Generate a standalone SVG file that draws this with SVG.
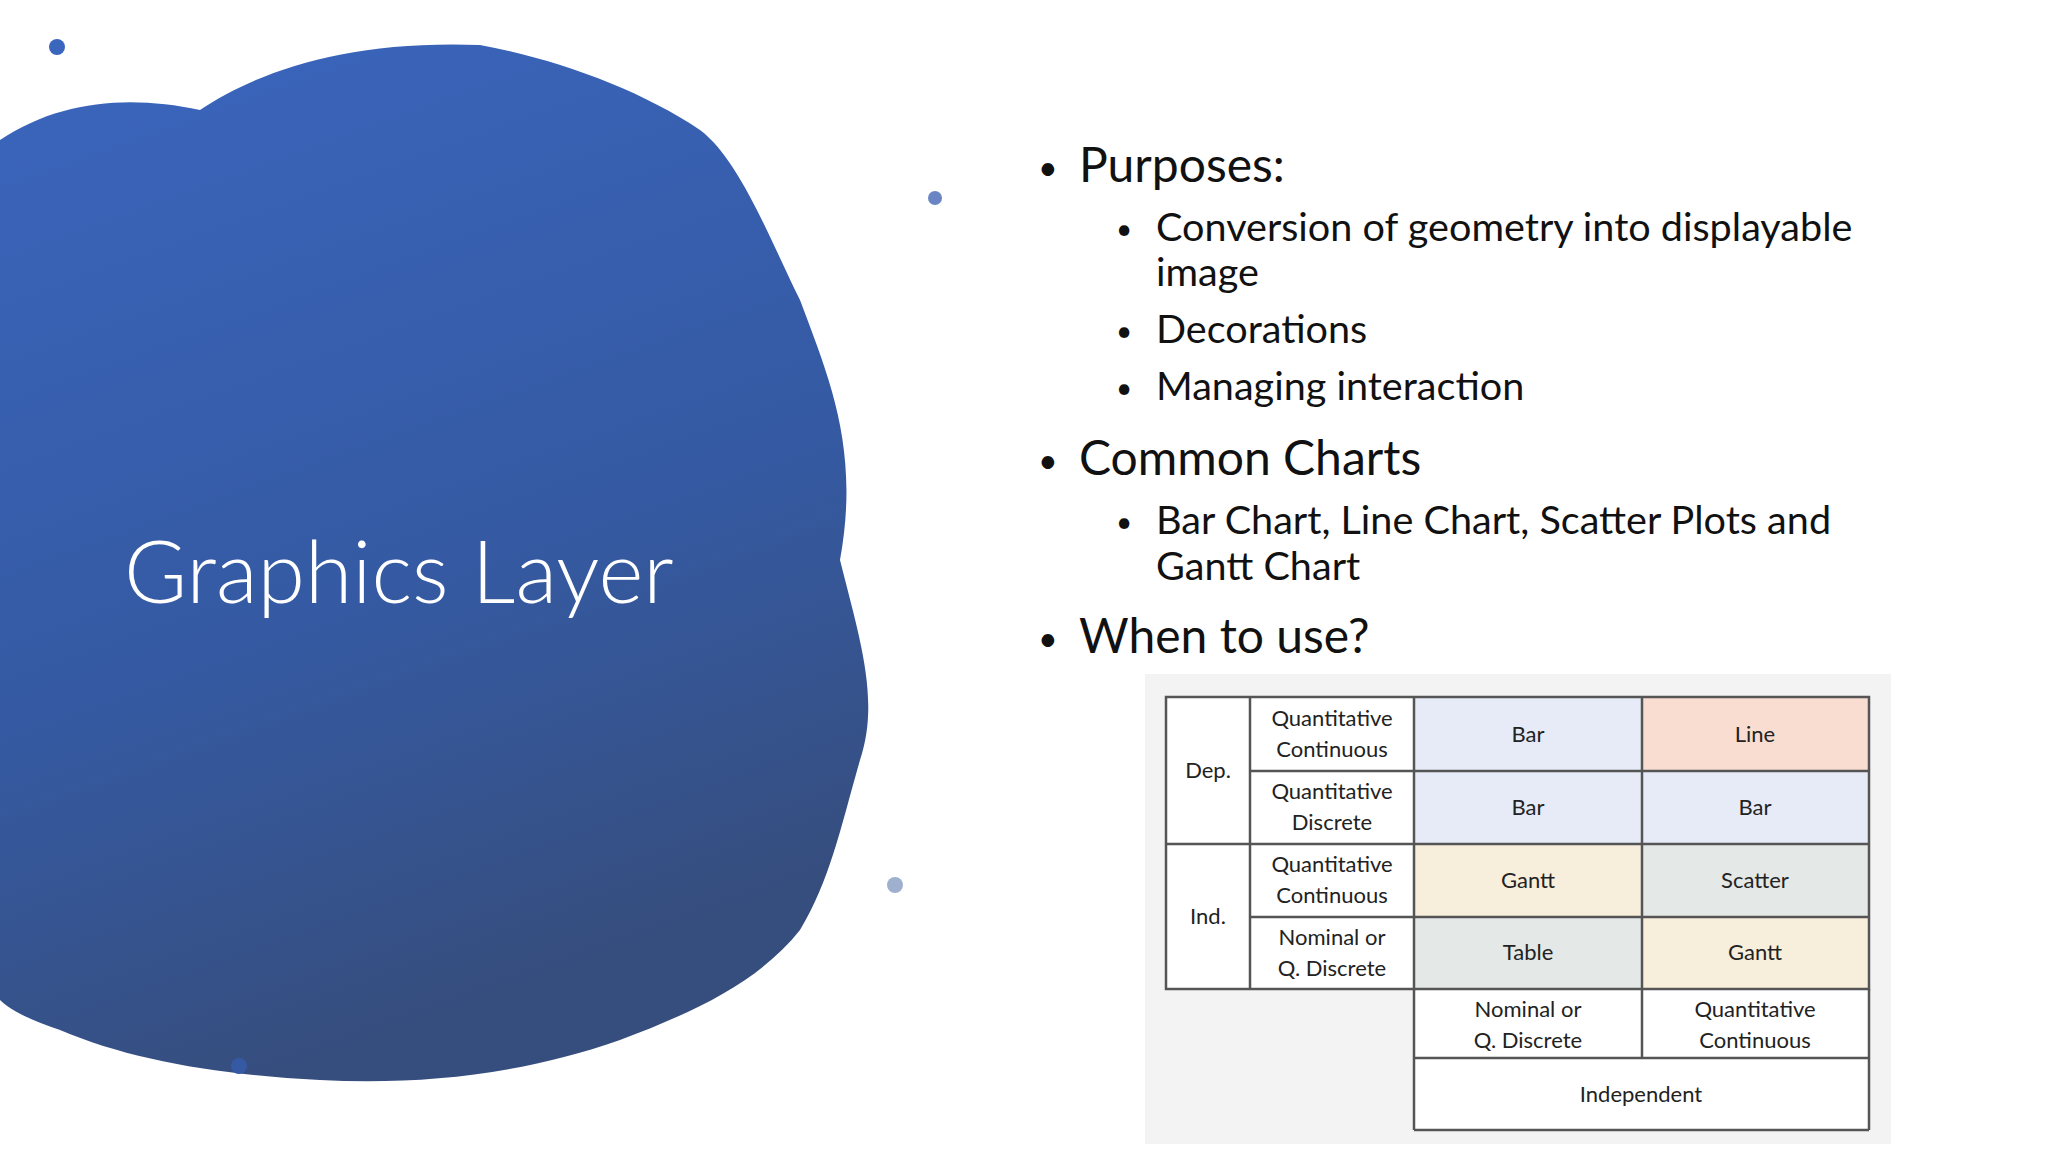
<svg xmlns="http://www.w3.org/2000/svg" width="2048" height="1152" viewBox="0 0 2048 1152">
<defs>
<linearGradient id="bg" x1="0" y1="0" x2="0.3" y2="1">
<stop offset="0" stop-color="#3B66BE"/><stop offset="0.6" stop-color="#355AA3"/><stop offset="1" stop-color="#364E7E"/>
</linearGradient>
<style>
.b{font-family:Lato,"Liberation Sans",sans-serif;fill:#111}
.l1{font-size:48px}.l2{font-size:39.6px}.d1{font-size:34px}.d2{font-size:28px}
.t{font-family:Lato,"Liberation Sans",sans-serif;font-size:22px;fill:#222;text-anchor:middle}
.c{stroke:#555;stroke-width:2.5}
</style>
</defs>
<rect width="2048" height="1152" fill="#fff"/>
<g id="blob">
<path fill="url(#bg)" d="M0 140 C60 100 130 95 200 110 C260 70 350 40 480 45 C560 60 640 90 700 130 C740 160 770 240 800 300 C830 380 860 450 840 560 C860 640 880 700 860 760 C840 830 830 880 800 930 C760 980 700 1010 620 1040 C520 1075 420 1085 320 1080 C220 1075 130 1060 60 1030 C30 1020 10 1010 0 1000 Z"/>
<circle cx="57" cy="47" r="8" fill="#3B66BE"/>
<circle cx="935" cy="198" r="7" fill="#6A85C4"/>
<circle cx="895" cy="885" r="8" fill="#9FB0CF"/>
<circle cx="239" cy="1066" r="8" fill="#355AA3"/>
</g>
<g id="title"><text x="124" y="603" font-family="Lato,'Liberation Sans',sans-serif" font-size="86" font-weight="300" fill="#fff">Graphics Layer</text></g>
<g id="bullets">
<text class="b d1" x="1038" y="180">•</text><text class="b l1" x="1079" y="182">Purposes:</text>
<text class="b d2" x="1116" y="239">•</text><text class="b l2" x="1156" y="241">Conversion of geometry into displayable</text>
<text class="b l2" x="1156" y="286">image</text>
<text class="b d2" x="1116" y="341">•</text><text class="b l2" x="1156" y="343">Decorations</text>
<text class="b d2" x="1116" y="398">•</text><text class="b l2" x="1156" y="400">Managing interaction</text>
<text class="b d1" x="1038" y="473">•</text><text class="b l1" x="1079" y="475">Common Charts</text>
<text class="b d2" x="1116" y="532">•</text><text class="b l2" x="1156" y="534">Bar Chart, Line Chart, Scatter Plots and</text>
<text class="b l2" x="1156" y="580">Gantt Chart</text>
<text class="b d1" x="1038" y="651">•</text><text class="b l1" x="1079" y="653">When to use?</text>
</g>
<g id="table">
<rect x="1145" y="674" width="746" height="470" fill="#F3F3F3"/>
<rect x="1166" y="697" width="248" height="292" fill="#fff"/>
<rect x="1414" y="989" width="455" height="141" fill="#fff"/>
<rect x="1414" y="697" width="228" height="74" fill="#E6EBF7"/>
<rect x="1642" y="697" width="227" height="74" fill="#F8DDD0"/>
<rect x="1414" y="771" width="228" height="73" fill="#E6EBF7"/>
<rect x="1642" y="771" width="227" height="73" fill="#E6EBF7"/>
<rect x="1414" y="844" width="228" height="73" fill="#F7EEDB"/>
<rect x="1642" y="844" width="227" height="73" fill="#E4E8E6"/>
<rect x="1414" y="917" width="228" height="72" fill="#E4E8E6"/>
<rect x="1642" y="917" width="227" height="72" fill="#F7EEDB"/>
<g class="c" fill="none">
<rect x="1166" y="697" width="703" height="292"/>
<line x1="1250" y1="697" x2="1250" y2="989"/>
<line x1="1414" y1="697" x2="1414" y2="1130"/>
<line x1="1642" y1="697" x2="1642" y2="1058"/>
<line x1="1869" y1="989" x2="1869" y2="1130"/>
<line x1="1250" y1="771" x2="1869" y2="771"/>
<line x1="1166" y1="844" x2="1869" y2="844"/>
<line x1="1250" y1="917" x2="1869" y2="917"/>
<line x1="1414" y1="1058" x2="1869" y2="1058"/>
<line x1="1414" y1="1130" x2="1869" y2="1130"/>
</g>
<text class="t" x="1208" y="778">Dep.</text>
<text class="t" x="1208" y="924">Ind.</text>
<text class="t" x="1332" y="726">Quantitative</text><text class="t" x="1332" y="757">Continuous</text>
<text class="t" x="1332" y="799">Quantitative</text><text class="t" x="1332" y="830">Discrete</text>
<text class="t" x="1332" y="872">Quantitative</text><text class="t" x="1332" y="903">Continuous</text>
<text class="t" x="1332" y="945">Nominal or</text><text class="t" x="1332" y="976">Q. Discrete</text>
<text class="t" x="1528" y="742">Bar</text><text class="t" x="1755" y="742">Line</text>
<text class="t" x="1528" y="815">Bar</text><text class="t" x="1755" y="815">Bar</text>
<text class="t" x="1528" y="888">Gantt</text><text class="t" x="1755" y="888">Scatter</text>
<text class="t" x="1528" y="960">Table</text><text class="t" x="1755" y="960">Gantt</text>
<text class="t" x="1528" y="1017">Nominal or</text><text class="t" x="1528" y="1048">Q. Discrete</text>
<text class="t" x="1755" y="1017">Quantitative</text><text class="t" x="1755" y="1048">Continuous</text>
<text class="t" x="1641" y="1102">Independent</text>
</g>
</svg>
